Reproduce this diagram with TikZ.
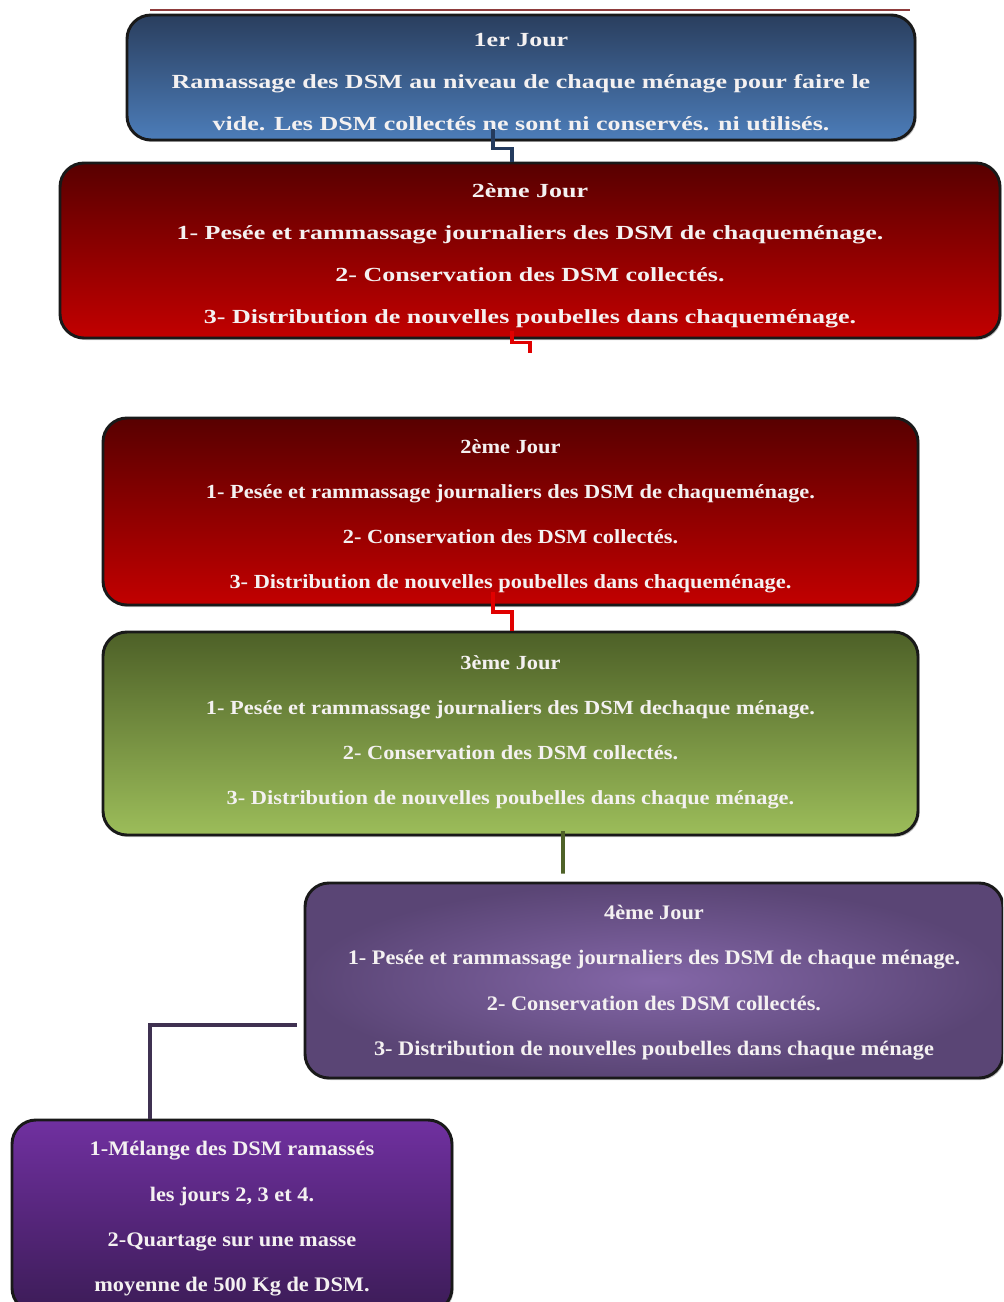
\documentclass[tikz,border=0pt]{standalone}
\usepackage{fontspec}
\usetikzlibrary{shadows}
\setmainfont{Liberation Serif}
% bold serif faces, widened or narrowed per box
\newfontfamily\fwide{Liberation Serif}[FakeStretch=1.30]
\newfontfamily\fmid{Liberation Serif}[FakeStretch=1.12]
\newfontfamily\fnarrow{Liberation Serif}[FakeStretch=1.08]

\definecolor{blueTop}{HTML}{2A3E5E}
\definecolor{blueBot}{HTML}{4C7DB9}
\definecolor{redTop}{HTML}{580000}
\definecolor{redBot}{HTML}{C20000}
\definecolor{greenTop}{HTML}{4D6027}
\definecolor{greenBot}{HTML}{9CBD5A}
\definecolor{plumOut}{HTML}{5A4575}
\definecolor{plumIn}{HTML}{8467A8}
\definecolor{violetTop}{HTML}{7030A0}
\definecolor{violetBot}{HTML}{3C1C57}
\definecolor{navyLine}{HTML}{243B5E}
\definecolor{redLine}{HTML}{E00000}
\definecolor{oliveLine}{HTML}{4F6228}
\definecolor{plumLine}{HTML}{3F3151}
\definecolor{edgeLine}{HTML}{8E3C3C}
\definecolor{paleText}{HTML}{F4F1F1}

\tikzset{
  daybox/.style={draw=black!90, line width=2.2pt, rounded corners=18pt,
    inner sep=0pt,
    drop shadow={shadow xshift=1.2pt, shadow yshift=-1.5pt, opacity=0.45}},
  daytext/.style={inner sep=0pt, align=center, text=paleText},
  link/.style={line width=2.8pt}
}

\begin{document}
\begin{tikzpicture}[x=0.75pt, y=-0.75pt]
\clip (0,0) rectangle (1003,1302);
\fill[white] (0,0) rectangle (1003,1302);

% thin rule above the first box
\draw[edgeLine, line width=1.6pt] (150,10) -- (910,10);

% day 1
\node[daybox, top color=blueTop, bottom color=blueBot,
      minimum width=591pt, minimum height=93.75pt] (d1) at (521,77.5) {};
\node[daytext, font=\fwide\bfseries\fontsize{15pt}{31.5pt}\selectfont]
  (d1t) at ([yshift=-3.4pt]d1.center)
  {1er Jour\\Ramassage des DSM au niveau de chaque ménage pour faire le\\vide. Les DSM collectés ne sont ni conservés. ni utilisés.};

% day 2 (first copy)
\node[daybox, top color=redTop, bottom color=redBot,
      minimum width=705pt, minimum height=131.25pt] (d2a) at (530,250.5) {};
\node[daytext, font=\fwide\bfseries\fontsize{15pt}{31.5pt}\selectfont]
  (d2at) at ([yshift=-3.75pt]d2a.center)
  {2ème Jour\\1- Pesée et rammassage journaliers des DSM de chaqueménage.\\2- Conservation des DSM collectés.\\3- Distribution de nouvelles poubelles dans chaqueménage.};

% day 2 (second copy)
\node[daybox, top color=redTop, bottom color=redBot,
      minimum width=611.25pt, minimum height=140.25pt] (d2b) at (510.5,511.5) {};
\node[daytext, font=\fmid\bfseries\fontsize{15pt}{33.75pt}\selectfont]
  (d2bt) at ([yshift=-3.75pt]d2b.center)
  {2ème Jour\\1- Pesée et rammassage journaliers des DSM de chaqueménage.\\2- Conservation des DSM collectés.\\3- Distribution de nouvelles poubelles dans chaqueménage.};

% day 3
\node[daybox, top color=greenTop, bottom color=greenBot,
      minimum width=611.25pt, minimum height=152.25pt] (d3) at (510.5,733.5) {};
\node[daytext, font=\fmid\bfseries\fontsize{15pt}{33.75pt}\selectfont]
  (d3t) at ([yshift=1.1pt]d3.center)
  {3ème Jour\\1- Pesée et rammassage journaliers des DSM dechaque ménage.\\2- Conservation des DSM collectés.\\3- Distribution de nouvelles poubelles dans chaque ménage.};

% day 4
\node[daybox, inner color=plumIn, outer color=plumOut,
      minimum width=523.5pt, minimum height=146.25pt] (d4) at (654,980.5) {};
\node[daytext, font=\fnarrow\bfseries\fontsize{15.5pt}{34pt}\selectfont]
  (d4t) at ([yshift=-1.5pt]d4.center)
  {4ème Jour\\1- Pesée et rammassage journaliers des DSM de chaque ménage.\\2- Conservation des DSM collectés.\\3- Distribution de nouvelles poubelles dans chaque ménage};

% mixing and quartering
\node[daybox, top color=violetTop, bottom color=violetBot,
      minimum width=330pt, minimum height=144pt] (mix) at (232,1216) {};
\node[daytext, font=\fnarrow\bfseries\fontsize{15.5pt}{34pt}\selectfont]
  (mixt) at ([yshift=-2.2pt]mix.center)
  {1-Mélange des DSM ramassés\\les jours 2, 3 et 4.\\2-Quartage sur une masse\\moyenne de 500 Kg de DSM.};

% connectors
\draw[link, navyLine] ([xshift=-21pt, yshift=9pt]d1.south) -- ++(0,19)
  -| ([xshift=-13.5pt]d2a.north);
\coordinate (d2aEnd) at (530,353);
\draw[link, redLine] ([xshift=-13.5pt, yshift=6pt]d2a.south) -- ++(0,11)
  -| (d2aEnd);
\draw[link, redLine] ([xshift=-13.1pt, yshift=11pt]d2b.south) -- ++(0,20)
  -| ([xshift=1.1pt]d3.north);
\draw[link, oliveLine] ([xshift=39.4pt, yshift=4pt]d3.south)
  -- ([xshift=-68.25pt, yshift=6pt]d4.north);
\draw[link, plumLine] ([xshift=-5pt, yshift=-33.4pt]d4.west)
  -| ([xshift=-61.5pt]mix.north);
\end{tikzpicture}
\end{document}
